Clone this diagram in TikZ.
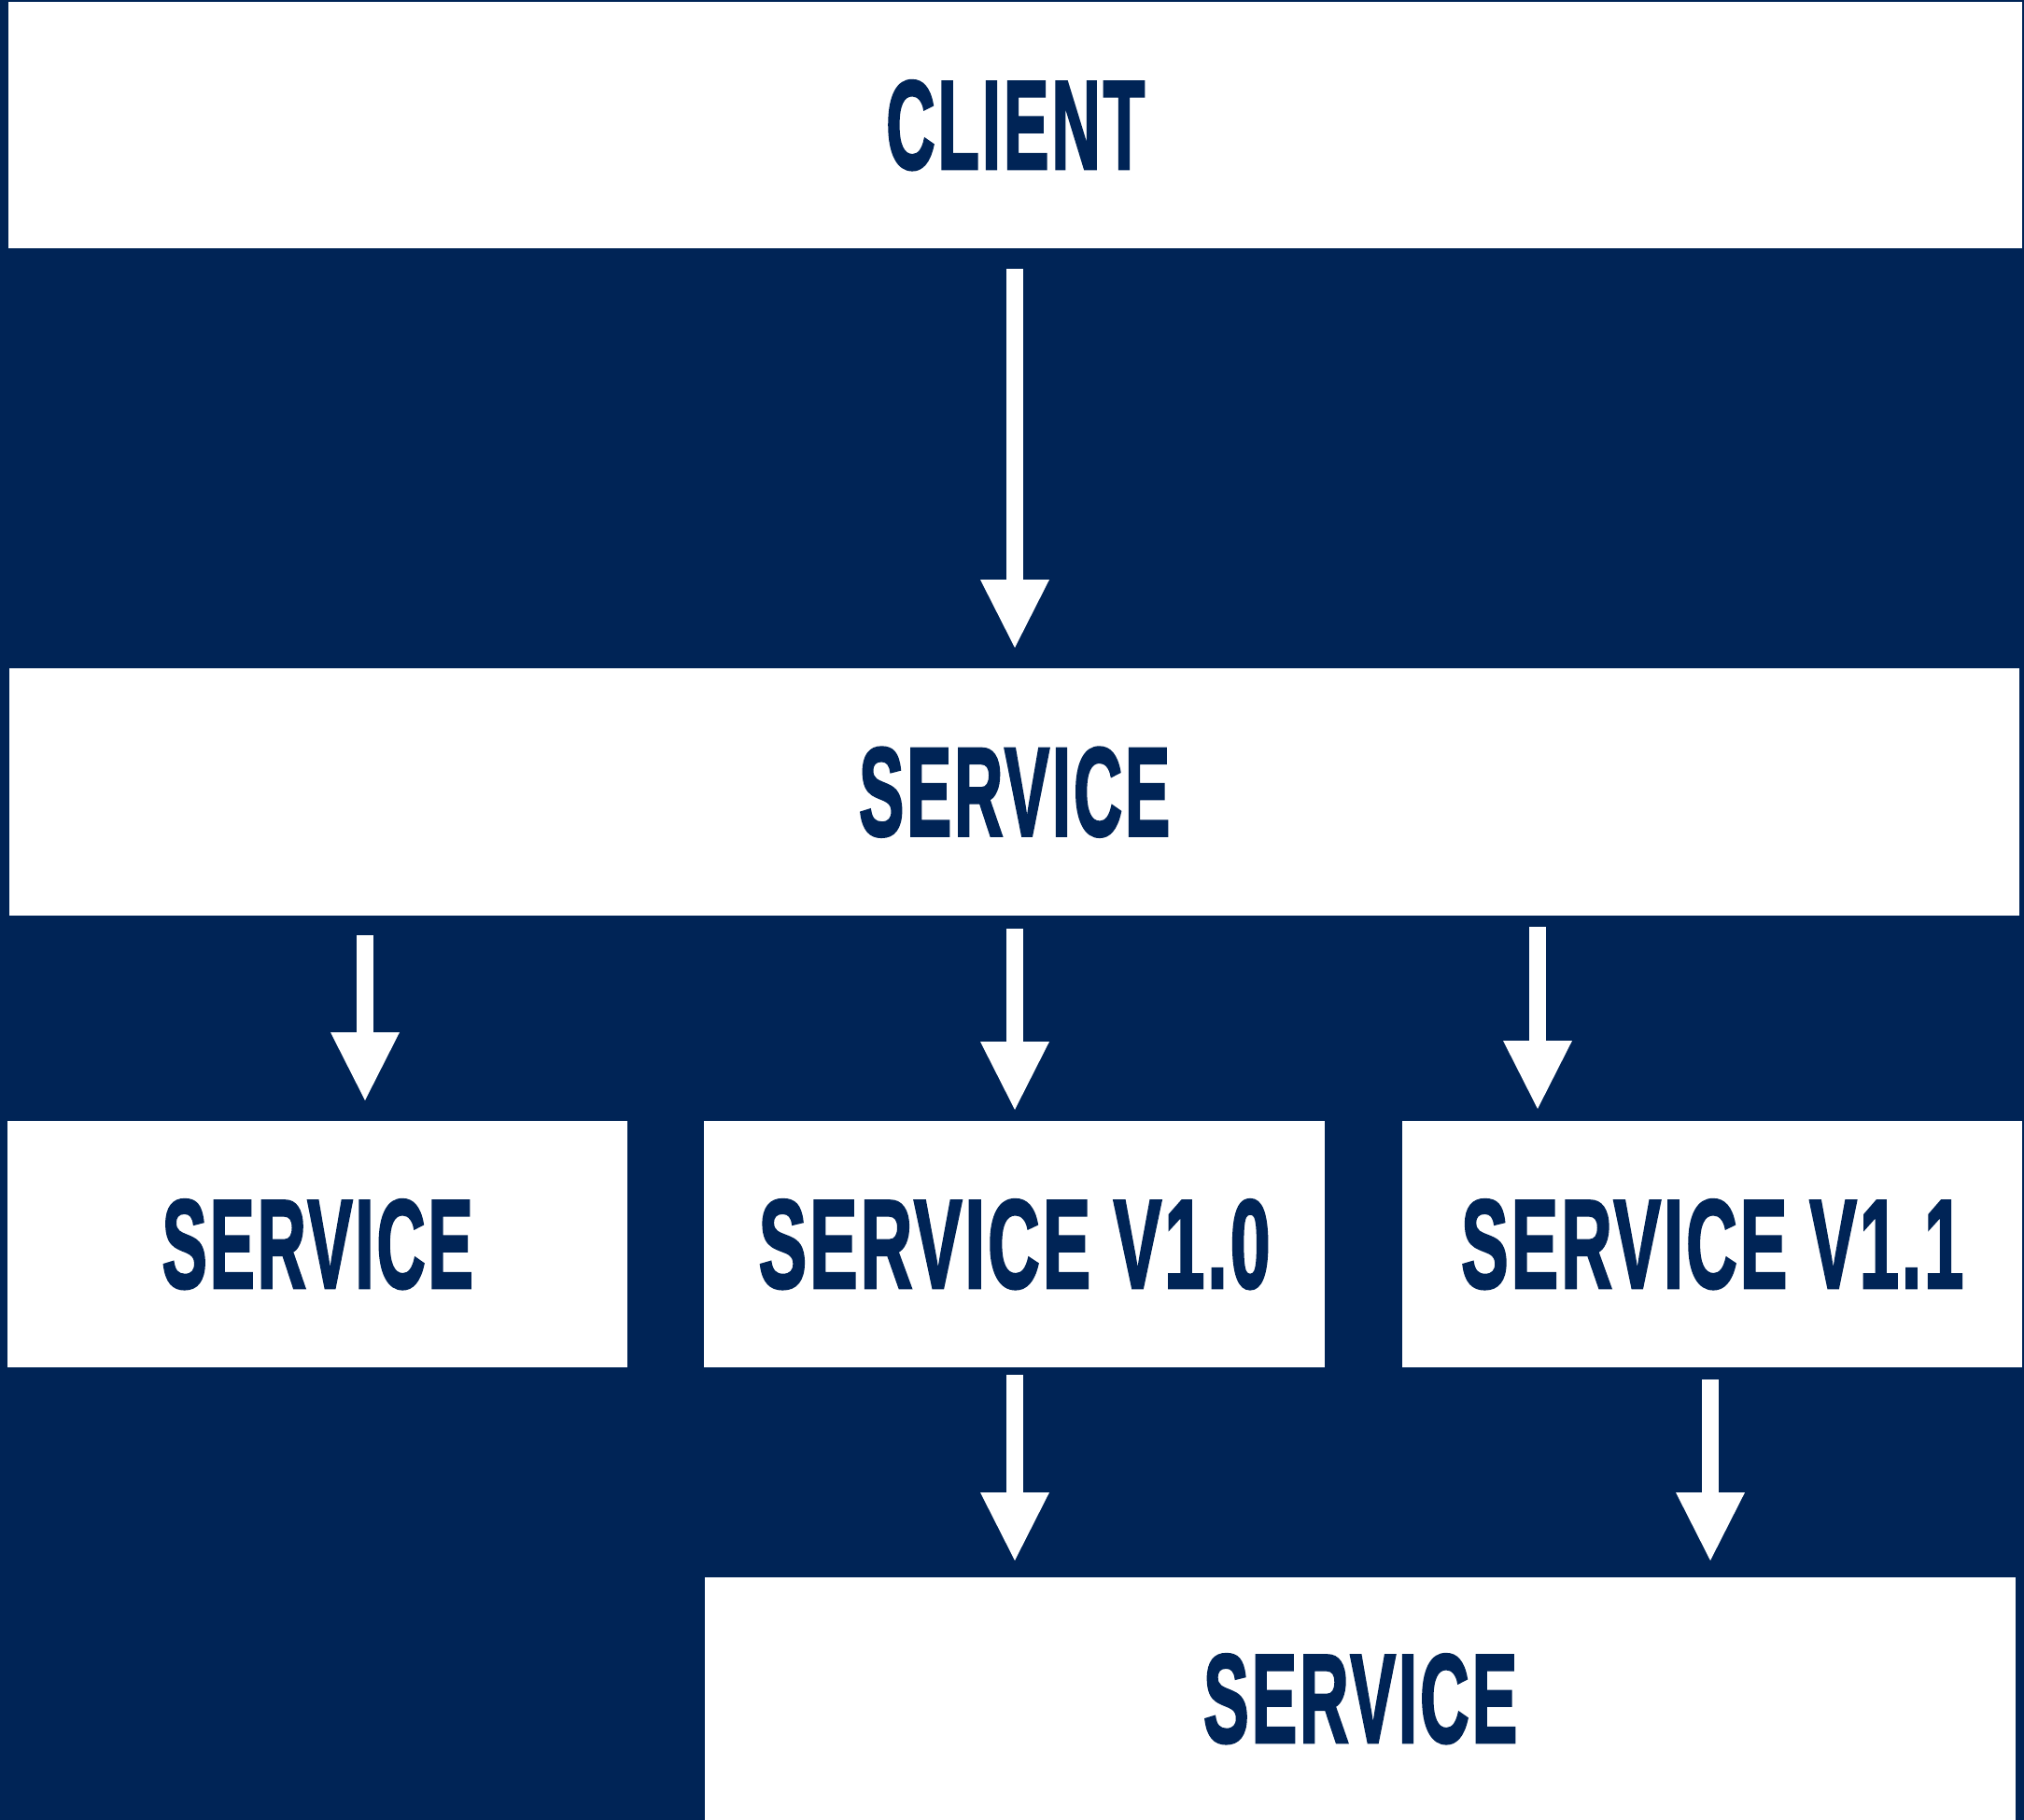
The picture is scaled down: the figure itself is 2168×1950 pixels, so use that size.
\documentclass[tikz,border=0pt]{standalone}
\usepackage{fontspec}
\usetikzlibrary{arrows.meta}
\newfontfamily\labfont[LetterSpace=4,FakeBold=2.5]{Liberation Sans Bold}
\definecolor{navy}{HTML}{002456}
\tikzset{
  box/.style={fill=white, draw=none, inner sep=0pt, text=navy, anchor=north west},
  flow/.style={white, line width=18pt, line cap=butt,
    -{Triangle[width=74pt 0 1, length=73pt 0 1, line width=0pt]}},
}
\newcommand{\lab}[2]{\resizebox{#1pt}{94pt}{\labfont #2}}
\begin{document}
\begin{tikzpicture}[x=1pt,y=-1pt]
  \fill[navy] (0,0) rectangle (2168,1950);
  \useasboundingbox (0,0) rectangle (2168,1950);
  % boxes
  \node[box, minimum width=2157pt, minimum height=264pt] (client) at (9,2) {\lab{277}{CLIENT}};
  \node[box, minimum width=2153pt, minimum height=265pt] (service) at (10,716) {\lab{333}{SERVICE}};
  \node[box, minimum width=664pt, minimum height=264pt] (svcA) at (8,1201) {\lab{333}{SERVICE}};
  \node[box, minimum width=665pt, minimum height=264pt] (svcB) at (754,1201) {\lab{548}{SERVICE V1.0}};
  \node[box, minimum width=664pt, minimum height=264pt] (svcC) at (1502,1201) {\lab{538}{SERVICE V1.1}};
  \node[box, minimum width=1404pt, minimum height=260pt] (svcD) at (755,1690) {\lab{336}{SERVICE}};
  % arrow axes
  \coordinate (x1) at (1087,0);
  \coordinate (x2) at (391,0);
  \coordinate (x3) at (1647,0);
  \coordinate (x4) at (1832,0);
  % connectors
  \draw[flow, shorten <=22pt, shorten >=22pt] (x1 |- client.south) -- (x1 |- service.north);
  \draw[flow, shorten <=21pt, shorten >=22pt] (x2 |- service.south) -- (x2 |- svcA.north);
  \draw[flow, shorten <=14pt, shorten >=12pt] (x1 |- service.south) -- (x1 |- svcB.north);
  \draw[flow, shorten <=12pt, shorten >=13pt] (x3 |- service.south) -- (x3 |- svcC.north);
  \draw[flow, shorten <=8pt, shorten >=18pt] (x1 |- svcB.south) -- (x1 |- svcD.north);
  \draw[flow, shorten <=13pt, shorten >=18pt] (x4 |- svcC.south) -- (x4 |- svcD.north);
\end{tikzpicture}
\end{document}
